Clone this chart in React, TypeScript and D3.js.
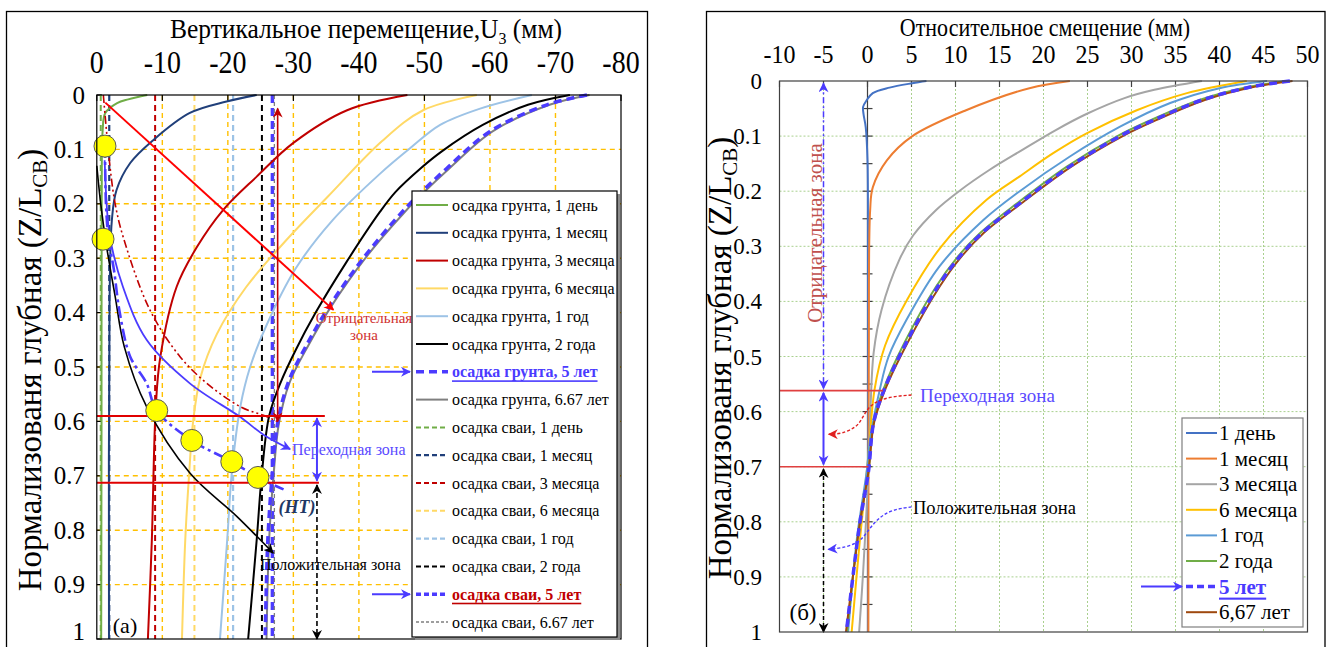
import React from 'react';
import * as d3 from 'd3';

type Pt = [number, number]; // [normalized depth Z/L, displacement in mm]

const FONT = "'Liberation Serif', 'Times New Roman', serif";

// ---------- axes ----------
const depthTicks = [0, 0.1, 0.2, 0.3, 0.4, 0.5, 0.6, 0.7, 0.8, 0.9, 1];
const depthTickLabels = ['0', '0.1', '0.2', '0.3', '0.4', '0.5', '0.6', '0.7', '0.8', '0.9', '1'];
const leftXTicks = [0, -10, -20, -30, -40, -50, -60, -70, -80];
const rightXTicks = [-10, -5, 0, 5, 10, 15, 20, 25, 30, 35, 40, 45, 50];

// ---------- panel (a): soil settlement profiles ----------
const soilDay1: Pt[] = [[0, -7.7], [0.008, -4.8], [0.015, -3.1], [0.033, -1.3], [0.064, -0.9], [0.19, -0.75], [0.6, -0.72], [1, -0.67]];
const soilMonth1: Pt[] = [[0, -24.4], [0.012, -19.8], [0.033, -14.2], [0.083, -8.6], [0.125, -5.1], [0.175, -3.0], [0.23, -2.3], [0.377, -1.95], [1, -1.86]];
const soilMonth3: Pt[] = [[0, -47.4], [0.028, -38.2], [0.088, -30], [0.15, -24.4], [0.211, -19.3], [0.279, -15.3], [0.352, -12.2], [0.481, -9.7], [0.573, -9.0], [0.818, -8.4], [1, -7.8]];
const soilMonth6: Pt[] = [[0, -58], [0.028, -49.8], [0.085, -43.5], [0.1875, -35.2], [0.267, -28.9], [0.353, -22.8], [0.44, -18.3], [0.52, -15.8], [0.6, -14.7], [0.695, -14.1], [0.818, -13.5], [1, -13]];
const soilYear1: Pt[] = [[0, -66.4], [0.025, -58.5], [0.055, -52.4], [0.098, -47.8], [0.145, -43.2], [0.23, -36], [0.32, -30.3], [0.426, -25.8], [0.5, -23.4], [0.573, -21.9], [0.695, -20.6], [0.818, -19.9], [1, -18.8]];
const soilYear2: Pt[] = [[0, -72.2], [0.018, -65.8], [0.055, -58.9], [0.104, -52.6], [0.135, -49.4], [0.178, -45.6], [0.215, -43.2], [0.309, -38.0], [0.4, -33.4], [0.47, -30.3], [0.53, -28.0], [0.59, -26.3], [0.695, -25.2], [0.818, -24.4], [1, -23.1]];
const soilYear5: Pt[] = [[0, -74.8], [0.018, -68.7], [0.067, -60], [0.135, -53.4], [0.178, -49.6], [0.215, -46.6], [0.298, -40.8], [0.39, -35.4], [0.46, -32], [0.529, -29.2], [0.603, -27.6], [0.695, -26.8], [0.818, -26.1], [1, -25.7]];
const soilYear667: Pt[] = [[0, -75.2], [0.018, -69.1], [0.067, -60.4], [0.135, -53.8], [0.178, -50.0], [0.215, -47.0], [0.298, -41.1], [0.39, -35.7], [0.46, -32.3], [0.529, -29.4], [0.603, -27.8], [0.695, -27.0], [0.818, -26.3], [1, -25.9]];

// pile settlement (uniform along the pile), mm
const pileSettlement = [-0.6, -1.9, -8.9, -14.9, -20.8, -25.2, -26.8, -27.1];

// neutral points
const neutralPoints: Pt[] = [[0.094, -1.25], [0.265, -0.95], [0.58, -9.15], [0.635, -14.5], [0.674, -20.6], [0.703, -24.6]];

const soilLabels = ['осадка грунта, 1 день', 'осадка грунта, 1 месяц', 'осадка грунта, 3 месяца', 'осадка грунта, 6 месяца', 'осадка грунта, 1 год', 'осадка грунта, 2 года', 'осадка грунта, 5 лет', 'осадка грунта, 6.67 лет'];
const pileLabels = ['осадка сваи, 1 день', 'осадка сваи, 1 месяц', 'осадка сваи, 3 месяца', 'осадка сваи, 6 месяца', 'осадка сваи, 1 год', 'осадка сваи, 2 года', 'осадка сваи, 5 лет', 'осадка сваи, 6.67 лет'];

// annotation paths, panel (a)
const neutralTrace: Pt[] = [[0.094, -1.25], [0.2, -1.4], [0.265, -1.8], [0.32, -2.6], [0.4, -3.5], [0.481, -5.1], [0.53, -7.6], [0.58, -9.15], [0.635, -14.5], [0.674, -20.6], [0.703, -24.6], [0.725, -28.5]];
const negativeTrace: Pt[] = [[0.0, -1.0], [0.13, -2.0], [0.2, -2.8], [0.26, -4.0], [0.395, -8.1], [0.481, -12.7], [0.53, -16.8], [0.573, -21.9], [0.591, -25.9], [0.6, -27.5]];
const transitionCallout: Pt[] = [[0.12, -1.2], [0.2, -1.5], [0.261, -2.0], [0.353, -4.0], [0.45, -7.6], [0.53, -14.2], [0.592, -21.9], [0.625, -25.5], [0.651, -29.5]];
const positiveCallout: Pt[] = [[0.13, 0], [0.2, -0.6], [0.279, -1.5], [0.37, -2.8], [0.463, -4.2], [0.573, -7.6], [0.695, -14.2], [0.775, -21.4], [0.842, -26.9]];
const negativeArrow: Pt[] = [[0.014, -1.3], [0.395, -36.1]];
const zoneTop = 0.59;
const zoneBottom = 0.713;

// ---------- panel (б): relative displacement soil - pile ----------
const relDay1: Pt[] = [[0, 6.7], [0.004, 5.1], [0.012, 2.5], [0.022, 0.6], [0.035, -0.1], [0.047, -0.5], [0.06, -0.45], [0.084, -0.2], [0.144, 0], [0.3, 0.05], [1, 0.05]];
const relMonth1: Pt[] = [[0, 23], [0.013, 18.4], [0.053, 11.2], [0.1, 5.1], [0.144, 2.2], [0.193, 0.6], [0.235, 0.3], [0.5, 0.15], [1, 0.1]];
const relMonth3: Pt[] = [[0, 38], [0.016, 32.6], [0.031, 29.2], [0.059, 25.0], [0.089, 21.4], [0.125, 17.6], [0.162, 13.8], [0.2, 10.4], [0.234, 7.8], [0.28, 5.2], [0.325, 3.6], [0.415, 1.6], [0.493, 0.7], [0.59, 0.35], [0.71, 0.1], [0.892, -0.5], [1, -0.95]];
const relMonth6: Pt[] = [[0, 43.1], [0.022, 36.3], [0.053, 30.6], [0.095, 24.9], [0.131, 21.1], [0.173, 17.3], [0.216, 13.5], [0.3, 8.4], [0.397, 4.5], [0.48, 2.0], [0.56, 0.8], [0.68, 0.1], [0.83, -0.85], [1, -1.8]];
const relYear1: Pt[] = [[0, 45.4], [0.013, 40], [0.04, 34.4], [0.083, 28.7], [0.137, 23], [0.2, 17.3], [0.252, 13.2], [0.336, 8.2], [0.433, 4.45], [0.5, 2.4], [0.56, 1.4], [0.65, 0.3], [0.71, -0.1], [0.83, -1.2], [1, -2.2]];
const relYear2: Pt[] = [[0, 47.7], [0.01, 43.5], [0.034, 37.8], [0.071, 32.2], [0.1, 28.4], [0.155, 22.7], [0.222, 17.0], [0.276, 12.8], [0.32, 10.2], [0.373, 7.8], [0.475, 4.2], [0.56, 1.8], [0.62, 0.7], [0.71, 0.1], [0.8, -0.85], [0.892, -1.6], [1, -2.3]];
const relYear5: Pt[] = [[0, 48], [0.01, 43.8], [0.034, 38.1], [0.071, 32.5], [0.1, 28.7], [0.155, 23], [0.222, 17.3], [0.276, 13.0], [0.32, 10.4], [0.373, 8.0], [0.475, 4.4], [0.56, 1.9], [0.62, 0.7], [0.71, 0.1], [0.8, -0.85], [0.892, -1.6], [1, -2.4]];
const relYear667: Pt[] = [[0, 48.3], [0.01, 44.1], [0.034, 38.4], [0.071, 32.8], [0.1, 29], [0.155, 23.2], [0.222, 17.5], [0.276, 13.2], [0.32, 10.6], [0.373, 8.2], [0.475, 4.55], [0.56, 2.0], [0.62, 0.75], [0.71, 0.1], [0.8, -0.85], [0.892, -1.6], [1, -2.45]];
const relLabels = ['1 день', '1 месяц', '3 месяца', '6 месяца', '1 год', '2 года', '5 лет', '6,67 лет'];

// annotation paths, panel (б)
const relZoneTop = 0.562;
const relZoneBottom = 0.7;
const transitionCurl: Pt[] = [[0.57, 5.0], [0.573, 2.2], [0.59, -0.1], [0.627, -0.85], [0.641, -3.1], [0.641, -4.4]];
const positiveCurl: Pt[] = [[0.773, 5.0], [0.779, 2.2], [0.809, 0.3], [0.839, -0.85], [0.848, -3.1], [0.85, -4.45]];

// ---------- scales ----------
const xL = d3.scaleLinear().domain([0, -80]).range([96.8, 621]);
const yL = d3.scaleLinear().domain([0, 1]).range([95, 639]);
const xR = d3.scaleLinear().domain([-10, 50]).range([779.5, 1307.5]);
const yR = d3.scaleLinear().domain([0, 1]).range([81, 632]);

const VIOLET = '#4B3BFF';

type Sty = { c: string; w: number; dash?: string };
const soilStyles: Sty[] = [
  { c: '#70AD47', w: 2 }, { c: '#203F7A', w: 2 }, { c: '#C00000', w: 2 }, { c: '#FFD966', w: 2 },
  { c: '#9DC3E6', w: 2 }, { c: '#000000', w: 2 }, { c: VIOLET, w: 3.5, dash: '8 5' }, { c: '#7F7F7F', w: 2 },
];
const pileStyles: Sty[] = [
  { c: '#70AD47', w: 2, dash: '6 4' }, { c: '#203F7A', w: 2.2, dash: '6 4' }, { c: '#C00000', w: 2, dash: '6 4' }, { c: '#FFD966', w: 2, dash: '6 4' },
  { c: '#9DC3E6', w: 2.2, dash: '6 4' }, { c: '#000000', w: 2, dash: '6 4' }, { c: VIOLET, w: 3.5, dash: '8 5' }, { c: '#7F7F7F', w: 1.3, dash: '4 3' },
];
const relStyles: Sty[] = [
  { c: '#4472C4', w: 2 }, { c: '#ED7D31', w: 2 }, { c: '#A5A5A5', w: 2 }, { c: '#FFC000', w: 2 },
  { c: '#5B9BD5', w: 2 }, { c: '#70AD47', w: 2 }, { c: VIOLET, w: 3.5, dash: '8 5' }, { c: '#9E480E', w: 2 },
];

const soilSeries = [soilDay1, soilMonth1, soilMonth3, soilMonth6, soilYear1, soilYear2, soilYear5, soilYear667];
const relSeries = [relDay1, relMonth1, relMonth3, relMonth6, relYear1, relYear2, relYear5, relYear667];

function T(props: {
  x: number; y: number; size: number; fill?: string; anchor?: string; sx?: number; sy?: number; rot?: number;
  weight?: string; italic?: boolean; underline?: boolean; baseline?: string; children: React.ReactNode;
}) {
  const { x, y, size, fill = '#000', anchor = 'middle', sx = 1, sy = 1, rot = 0, weight = 'normal', italic = false, underline = false, baseline, children } = props;
  const tr = `translate(${x},${y})` + (rot ? ` rotate(${rot})` : '') + (sx !== 1 || sy !== 1 ? ` scale(${sx},${sy})` : '');
  return (
    <text transform={tr} fontSize={size} fill={fill} textAnchor={anchor as any} fontWeight={weight}
      fontStyle={italic ? 'italic' : 'normal'} dominantBaseline={baseline as any}
      style={underline ? { textDecoration: 'underline' } : undefined}>{children}</text>
  );
}

const markerColors: Record<string, string> = { red: '#FF0000', dred: '#C00000', blue: VIOLET, black: '#000000', lred: '#E02020' };

export default function App() {
  const smooth = d3.curveCatmullRom.alpha(0.5);
  const lineL = d3.line<Pt>().x(d => xL(d[1])).y(d => yL(d[0])).curve(smooth);
  const lineR = d3.line<Pt>().x(d => xR(d[1])).y(d => yR(d[0])).curve(smooth);
  const straightL = d3.line<Pt>().x(d => xL(d[1])).y(d => yL(d[0]));
  const straightR = d3.line<Pt>().x(d => xR(d[1])).y(d => yR(d[0]));
  const curlR = d3.line<Pt>().x(d => xR(d[1])).y(d => yR(d[0])).curve(d3.curveBasis);

  const zoneX = -33.6;
  const relZoneX = -5;

  const legL = { x: 412, y: 191, w: 205, h: 446, row0: 205, dy: 27.8 };
  const legR = { x: 1182, y: 418, w: 121, h: 209, row0: 433, dy: 25.6 };

  const drawOrderL = [0, 1, 2, 3, 4, 5, 7, 6];
  const drawOrderR = [0, 1, 2, 3, 4, 5, 7, 6];

  return (
    <svg width={1335} height={647} style={{ position: 'absolute', left: 0, top: 0, background: '#fff' }} fontFamily={FONT}>
      <defs>
        {Object.entries(markerColors).map(([k, c]) => (
          <marker key={k} id={`arr-${k}`} viewBox="0 0 10 10" refX="9" refY="5" markerWidth="11" markerHeight="10"
            markerUnits="userSpaceOnUse" orient="auto-start-reverse">
            <path d="M0,0 L10,5 L0,10 L3,5 z" fill={c} />
          </marker>
        ))}
      </defs>
      <rect x={0} y={0} width={1335} height={647} fill="#fff" />

      {/* panel borders */}
      <rect x={6.5} y={11.5} width={641} height={700} fill="none" stroke="#000" strokeWidth={1.3} />
      <rect x={706.5} y={11.5} width={618.5} height={700} fill="none" stroke="#000" strokeWidth={1.3} />

      {/* ================= panel (a) ================= */}
      <T x={366} y={38} size={25.5} sy={1.1}>
        <tspan>Вертикальное перемещение,U</tspan>
        <tspan fontSize={16} dy={5}>3</tspan>
        <tspan dy={-5}> (мм)</tspan>
      </T>
      {leftXTicks.map(v => (
        <T key={v} x={xL(v)} y={73} size={28} sy={1.1}>{v === 0 ? '0' : String(v)}</T>
      ))}
      {depthTicks.map((d, i) => (
        <T key={d} x={85} y={Math.min(yL(d) + 8.5, 640)} size={25} anchor="end">{depthTickLabels[i]}</T>
      ))}
      <T x={41} y={370} size={33} rot={-90}>
        <tspan>Нормализованя глубная (Z/L</tspan>
        <tspan fontSize={21} dy={6}>CB</tspan>
        <tspan dy={-6}>)</tspan>
      </T>

      {/* grid */}
      {leftXTicks.filter(v => v !== 0 && v !== -80).map(v => (
        <line key={v} x1={xL(v)} x2={xL(v)} y1={yL(0)} y2={yL(1)} stroke="#FFC000" strokeWidth={1.4} strokeDasharray="5 4" />
      ))}
      {depthTicks.filter(d => d > 0 && d < 1).map(d => (
        <line key={d} x1={xL(0)} x2={xL(-80)} y1={yL(d)} y2={yL(d)} stroke="#FFC000" strokeWidth={1.4} strokeDasharray="5 4" />
      ))}
      {/* ticks */}
      {leftXTicks.map(v => (
        <line key={v} x1={xL(v)} x2={xL(v)} y1={yL(0)} y2={yL(0) + 6} stroke="#000" strokeWidth={1.2} />
      ))}
      {depthTicks.map(d => (
        <line key={d} x1={xL(0)} x2={xL(0) + 5} y1={yL(d)} y2={yL(d)} stroke="#000" strokeWidth={1.2} />
      ))}

      {/* pile settlement lines */}
      {pileSettlement.map((v, i) => (
        <path key={i} d={straightL([[0, v], [1, v]])!} fill="none" stroke={pileStyles[i].c}
          strokeWidth={pileStyles[i].w} strokeDasharray={pileStyles[i].dash} />
      ))}

      {/* soil settlement profiles */}
      {drawOrderL.map(i => (
        <path key={i} d={lineL(soilSeries[i])!} fill="none" stroke={soilStyles[i].c}
          strokeWidth={soilStyles[i].w} strokeDasharray={soilStyles[i].dash} />
      ))}

      {/* zone annotations */}
      <path d={lineL(negativeTrace)!} fill="none" stroke="#C00000" strokeWidth={1.6} strokeDasharray="8 3 2 3 2 3" />
      <path d={lineL(positiveCallout)!} fill="none" stroke="#000" strokeWidth={1.6} markerEnd="url(#arr-black)" />
      <path d={lineL(transitionCallout)!} fill="none" stroke={VIOLET} strokeWidth={1.8} markerEnd="url(#arr-blue)" />
      <path d={lineL(neutralTrace)!} fill="none" stroke={VIOLET} strokeWidth={2.6} strokeDasharray="12 4 3 4" />
      <path d={straightL(negativeArrow)!} fill="none" stroke="#FF0000" strokeWidth={2} markerEnd="url(#arr-red)" />
      <path d={straightL([[0.025, -27.6], [0.6, -27.6]])!} fill="none" stroke="#C00000" strokeWidth={1.6}
        markerStart="url(#arr-dred)" markerEnd="url(#arr-dred)" />
      <path d={straightL([[zoneTop, 0], [zoneTop, -34.8]])!} stroke="#E00000" strokeWidth={2} fill="none" />
      <path d={straightL([[zoneBottom, 0], [zoneBottom, -33.9]])!} stroke="#E00000" strokeWidth={2} fill="none" />
      <path d={straightL([[zoneTop + 0.004, zoneX], [zoneBottom - 0.004, zoneX]])!} stroke={VIOLET} strokeWidth={2} fill="none"
        markerStart="url(#arr-blue)" markerEnd="url(#arr-blue)" />
      <path d={straightL([[zoneBottom + 0.004, zoneX], [1, zoneX]])!} stroke="#000" strokeWidth={1.6} strokeDasharray="5 3" fill="none"
        markerStart="url(#arr-black)" markerEnd="url(#arr-black)" />

      {neutralPoints.map((p, i) => (
        <circle key={i} cx={xL(p[1])} cy={yL(p[0])} r={11} fill="#FFFF00" stroke="#595959" strokeWidth={1} />
      ))}

      <T x={364} y={323} size={15} fill="#D03030">Отрицательная</T>
      <T x={364} y={340} size={15} fill="#D03030">зона</T>
      <T x={292} y={455} size={16} fill="#5B4BFF" anchor="start">Переходная зона</T>
      <T x={297} y={513} size={18} fill="#1F3864" weight="bold" italic>(HT)</T>
      <T x={260} y={570} size={16} anchor="start">Положительная  зона</T>
      <T x={125} y={633} size={22}>(a)</T>

      {/* frame */}
      <rect x={xL(0)} y={yL(0)} width={xL(-80) - xL(0)} height={yL(1) - yL(0)} fill="none" stroke="#000" strokeWidth={1.2} />

      {/* legend (a) */}
      <rect x={legL.x + 3} y={legL.y + 3} width={legL.w} height={legL.h} fill="#8C8C8C" />
      <rect x={legL.x} y={legL.y} width={legL.w} height={legL.h} fill="#fff" stroke="#000" strokeWidth={1.2} />
      {[...soilLabels, ...pileLabels].map((lab, k) => {
        const st = k < 8 ? soilStyles[k] : pileStyles[k - 8];
        const y = legL.row0 + k * legL.dy;
        const special = k === 6 || k === 14;
        const sampleDash = k < 8 ? st.dash : (k === 15 ? '3 2' : '5 3');
        return (
          <g key={k}>
            <line x1={416} x2={448} y1={y} y2={y} stroke={st.c} strokeWidth={Math.min(st.w, 3.5)} strokeDasharray={sampleDash} />
            <T x={452} y={y} size={16} anchor="start" baseline="central"
              fill={k === 6 ? VIOLET : k === 14 ? '#C00000' : '#000'} weight={special ? 'bold' : 'normal'} underline={special}>{lab}</T>
          </g>
        );
      })}
      <line x1={372} x2={410} y1={legL.row0 + 6 * legL.dy} y2={legL.row0 + 6 * legL.dy} stroke={VIOLET} strokeWidth={2} markerEnd="url(#arr-blue)" />
      <line x1={372} x2={410} y1={legL.row0 + 14 * legL.dy} y2={legL.row0 + 14 * legL.dy} stroke={VIOLET} strokeWidth={2} markerEnd="url(#arr-blue)" />

      {/* ================= panel (б) ================= */}
      <T x={1045} y={36} size={22} sy={1.1}>Относительное смещение  (мм)</T>
      {rightXTicks.map(v => (
        <T key={v} x={xR(v)} y={63} size={24} sy={1.05}>{String(v)}</T>
      ))}
      {depthTicks.map((d, i) => (
        <T key={d} x={762} y={yR(d) + 8} size={23} anchor="end">{depthTickLabels[i]}</T>
      ))}
      <T x={731} y={358} size={33} rot={-90}>
        <tspan>Нормализованя глубная (Z/L</tspan>
        <tspan fontSize={21} dy={6}>CB</tspan>
        <tspan dy={-6}>)</tspan>
      </T>

      {/* grid */}
      {rightXTicks.filter(v => v !== -10 && v !== 50).map(v => (
        <line key={v} x1={xR(v)} x2={xR(v)} y1={yR(0)} y2={yR(1)} stroke="#A9D08E" strokeWidth={1} strokeDasharray="2 2" />
      ))}
      {depthTicks.filter(d => d > 0 && d < 1).map(d => (
        <line key={d} x1={xR(-10)} x2={xR(50)} y1={yR(d)} y2={yR(d)} stroke="#A9D08E" strokeWidth={1} strokeDasharray="2 2" />
      ))}
      {/* zero axis with minor ticks */}
      <line x1={xR(0)} x2={xR(0)} y1={yR(0)} y2={yR(1)} stroke="#404040" strokeWidth={1.2} />
      {d3.range(1, 20).map(k => (
        <line key={k} x1={xR(0) - 5} x2={xR(0) + 5} y1={yR(k * 0.05)} y2={yR(k * 0.05)} stroke="#404040" strokeWidth={1.2} />
      ))}
      {rightXTicks.map(v => (
        <line key={v} x1={xR(v)} x2={xR(v)} y1={yR(0)} y2={yR(0) + 6} stroke="#404040" strokeWidth={1.2} />
      ))}

      {/* relative displacement profiles */}
      {drawOrderR.map(i => (
        <path key={i} d={lineR(relSeries[i])!} fill="none" stroke={relStyles[i].c}
          strokeWidth={relStyles[i].w} strokeDasharray={relStyles[i].dash} />
      ))}

      {/* zone annotations */}
      <path d={straightR([[relZoneTop, -10], [relZoneTop, 1.75]])!} stroke="#E04040" strokeWidth={1.6} fill="none" />
      <path d={straightR([[relZoneBottom, -10], [relZoneBottom, 0.1]])!} stroke="#E04040" strokeWidth={1.6} fill="none" />
      <path d={straightR([[0.004, relZoneX], [relZoneTop - 0.004, relZoneX]])!} stroke={VIOLET} strokeWidth={1.5} strokeDasharray="6 3 2 3" fill="none"
        markerStart="url(#arr-blue)" markerEnd="url(#arr-blue)" />
      <path d={straightR([[relZoneTop + 0.004, relZoneX], [relZoneBottom - 0.004, relZoneX]])!} stroke={VIOLET} strokeWidth={2} fill="none"
        markerStart="url(#arr-blue)" markerEnd="url(#arr-blue)" />
      <path d={straightR([[relZoneBottom + 0.004, relZoneX], [1, relZoneX]])!} stroke="#000" strokeWidth={1.5} strokeDasharray="4 3" fill="none"
        markerStart="url(#arr-black)" markerEnd="url(#arr-black)" />
      <path d={curlR(transitionCurl)!} fill="none" stroke="#E02020" strokeWidth={1.4} strokeDasharray="3 2" markerEnd="url(#arr-lred)" />
      <path d={curlR(positiveCurl)!} fill="none" stroke={VIOLET} strokeWidth={1.4} strokeDasharray="3 2" markerEnd="url(#arr-blue)" />

      <T x={822} y={233} size={21} rot={-90} fill="#C0504D">Отрицательная  зона</T>
      <T x={920} y={402} size={19} anchor="start" fill="#5B4BFF">Переходная зона</T>
      <T x={913} y={514} size={18.5} anchor="start">Положительная  зона</T>
      <T x={803} y={620} size={23}>(б)</T>

      {/* frame */}
      <rect x={xR(-10)} y={yR(0)} width={xR(50) - xR(-10)} height={yR(1) - yR(0)} fill="none" stroke="#404040" strokeWidth={1.2} />

      {/* legend (б) */}
      <rect x={legR.x} y={legR.y} width={legR.w} height={legR.h} fill="#fff" stroke="#7F7F7F" strokeWidth={1.2} />
      {relLabels.map((lab, k) => {
        const st = relStyles[k];
        const y = legR.row0 + k * legR.dy;
        return (
          <g key={k}>
            <line x1={1186} x2={1217} y1={y} y2={y} stroke={st.c} strokeWidth={st.w} strokeDasharray={st.dash ? '7 4' : undefined} />
            <T x={1219} y={y} size={21} anchor="start" baseline="central" fill={k === 6 ? VIOLET : '#000'}
              weight={k === 6 ? 'bold' : 'normal'} underline={k === 6}>{lab}</T>
          </g>
        );
      })}
      <line x1={1141} x2={1182} y1={legR.row0 + 6 * legR.dy} y2={legR.row0 + 6 * legR.dy} stroke={VIOLET} strokeWidth={2} markerEnd="url(#arr-blue)" />
    </svg>
  );
}
